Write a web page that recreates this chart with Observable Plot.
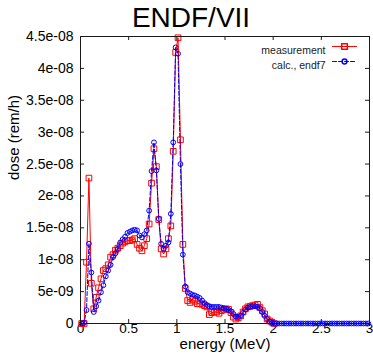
<!DOCTYPE html>
<html>
<head>
<meta charset="utf-8">
<script src="https://cdn.jsdelivr.net/npm/d3@7"></script>
<script src="https://cdn.jsdelivr.net/npm/@observablehq/plot@0.6"></script>
<style>
  html, body { margin: 0; padding: 0; background: #fff; }
</style>
</head>
<body>
<div id="chart"></div>
<script>
// energy bin centres (MeV)
const energy = [
  0.0125,0.0375,0.0625,0.0875,0.1125,0.1375,0.1625,0.1875,0.2125,0.2375,
  0.2625,0.2875,0.3125,0.3375,0.3625,0.3875,0.4125,0.4375,0.4625,0.4875,
  0.5125,0.5375,0.5625,0.5875,0.6125,0.6375,0.6625,0.6875,0.7125,0.7375,
  0.7625,0.7875,0.8125,0.8375,0.8625,0.8875,0.9125,0.9375,0.9625,0.9875,
  1.0125,1.0375,1.0625,1.0875,1.1125,1.1375,1.1625,1.1875,1.2125,1.2375,
  1.2625,1.2875,1.3125,1.3375,1.3625,1.3875,1.4125,1.4375,1.4625,1.4875,
  1.5125,1.5375,1.5625,1.5875,1.6125,1.6375,1.6625,1.6875,1.7125,1.7375,
  1.7625,1.7875,1.8125,1.8375,1.8625,1.8875,1.9125,1.9375,1.9625,1.9875,
  2.0125,2.0375,2.0625,2.0875,2.1125,2.1375,2.1625,2.1875,2.2125,2.2375,
  2.2625,2.2875,2.3125,2.3375,2.3625,2.3875,2.4125,2.4375,2.4625,2.4875,
  2.5125,2.5375,2.5625,2.5875,2.6125,2.6375,2.6625,2.6875,2.7125,2.7375,
  2.7625,2.7875,2.8125,2.8375,2.8625,2.8875,2.9125,2.9375,2.9625,2.9875
];
// dose, in units of 1e-8 rem/h
const measurement = [
  0,0,0.96,2.28,0.63,0.23,0.41,0.56,0.70,0.83,
  0.86,0.92,1.04,1.08,1.15,1.18,1.22,1.26,1.28,1.30,
  1.30,1.31,1.33,1.24,1.18,1.14,1.22,1.33,1.56,2.20,
  2.74,2.46,1.63,1.17,1.09,1.17,1.33,1.53,2.70,4.25,
  4.48,2.88,1.24,0.55,0.36,0.33,0.38,0.35,0.31,0.31,
  0.30,0.28,0.26,0.14,0.17,0.18,0.18,0.16,0.20,0.22,
  0.23,0.22,0.17,0.10,0.07,0.09,0.12,0.18,0.23,0.26,
  0.27,0.28,0.29,0.30,0.25,0.20,0.15,0.07,0.04,0.02,
  0
];
const calcEndf7 = [
  0,0.01,0.21,1.25,0.80,0.18,0.27,0.36,0.49,0.60,
  0.74,0.83,0.92,1.04,1.10,1.17,1.27,1.32,1.36,1.42,
  1.44,1.46,1.47,1.46,1.38,1.35,1.40,1.46,1.77,2.39,
  2.84,2.40,1.64,1.25,1.17,1.22,1.27,1.72,2.84,4.33,
  4.23,2.50,1.08,0.58,0.49,0.47,0.45,0.44,0.42,0.40,
  0.36,0.32,0.29,0.27,0.26,0.26,0.26,0.26,0.25,0.24,
  0.23,0.21,0.19,0.15,0.11,0.10,0.12,0.17,0.22,0.25,
  0.26,0.27,0.27,0.26,0.24,0.18,0.12,0.07,0.03,0.01,
  0,0,0,0,0,0,0,0,0,0,
  0,0,0,0,0,0,0,0,0,0,
  0,0,0,0,0,0,0,0,0,0,
  0,0,0,0,0,0,0,0,0,0
];
const unit = 1e-8;
const seriesNames = ["measurement", "calc., endf7"];
const xTicks = [0, 0.5, 1, 1.5, 2, 2.5, 3];
const xTickLabels = ["0", "0.5", "1", "1.5", "2", "2.5", "3"];
const yTicks = [0, 5e-9, 1e-8, 1.5e-8, 2e-8, 2.5e-8, 3e-8, 3.5e-8, 4e-8, 4.5e-8];
const yTickLabels = ["0", "5e-09", "1e-08", "1.5e-08", "2e-08", "2.5e-08", "3e-08", "3.5e-08", "4e-08", "4.5e-08"];

const measData = measurement.map((v, i) => ({e: energy[i], v: v * unit}));
const calcData = calcEndf7.map((v, i) => ({e: energy[i], v: v * unit}));

const W = 373, H = 355, mL = 80, mR = 4, mT = 36, mB = 32;
const innerW = W - mL - mR, innerH = H - mT - mB;
const tk = 4;
const red = "#ff0000", blue = "#0000ff";
const ink = "#1a1a1a";
const legendLine = {draw(ctx, l) { ctx.moveTo(0, 0); ctx.lineTo(0, -l); }};

const chart = Plot.plot({
  width: W, height: H,
  marginLeft: mL, marginRight: mR, marginTop: mT, marginBottom: mB,
  style: {fontFamily: "'Liberation Sans', Arial, sans-serif", background: "#fff", color: ink},
  x: {domain: [0, 3], axis: null},
  y: {domain: [0, 4.5e-8], axis: null},
  marks: [
    // inward ticks on all four sides
    Plot.tickX(xTicks, {x: d => d, insetTop: innerH - tk, stroke: ink}),
    Plot.tickX(xTicks, {x: d => d, insetBottom: innerH - tk, stroke: ink}),
    Plot.tickY(yTicks, {y: d => d, insetRight: innerW - tk, stroke: ink}),
    Plot.tickY(yTicks, {y: d => d, insetLeft: innerW - tk, stroke: ink}),
    // tick labels
    Plot.text(xTicks, {x: d => d, frameAnchor: "bottom", dy: 9.5, text: (d, i) => xTickLabels[i], fontSize: 13.5, fill: "#000"}),
    Plot.text(yTicks, {y: d => d, frameAnchor: "left", dx: -7, textAnchor: "end", text: (d, i) => yTickLabels[i], fontSize: 14, fill: "#000"}),
    // series
    Plot.line(measData, {x: "e", y: "v", stroke: red, strokeWidth: 1}),
    Plot.dot(measData, {x: "e", y: "v", symbol: "square", r: 3.2, stroke: red, strokeWidth: 1, fill: "none"}),
    Plot.line(calcData, {x: "e", y: "v", stroke: blue, strokeWidth: 1, strokeDasharray: "4,2"}),
    Plot.dot(calcData, {x: "e", y: "v", symbol: "circle", r: 2.4, stroke: blue, strokeWidth: 1, fill: "none"}),
    Plot.frame({stroke: ink}),
    // legend
    Plot.text([seriesNames[0]], {frameAnchor: "top-right", dx: -44, dy: 10, textAnchor: "end", fontSize: 10.5, fill: ink}),
    Plot.text([seriesNames[1]], {frameAnchor: "top-right", dx: -44, dy: 25, textAnchor: "end", fontSize: 10.5, fill: ink}),
    Plot.vector([0], {frameAnchor: "top-right", dx: -25, dy: 10, length: 24, rotate: 90, anchor: "middle", shape: legendLine, stroke: red, strokeWidth: 1}),
    Plot.dot([0], {frameAnchor: "top-right", dx: -25, dy: 10, symbol: "square", r: 3.2, stroke: red, fill: "none"}),
    Plot.vector([0], {frameAnchor: "top-right", dx: -25, dy: 25, length: 24, rotate: 90, anchor: "middle", shape: legendLine, stroke: blue, strokeWidth: 1, strokeDasharray: "4,2"}),
    Plot.dot([0], {frameAnchor: "top-right", dx: -25, dy: 25, symbol: "circle", r: 2.4, stroke: blue, fill: "none"}),
    // title and axis labels
    Plot.text(["ENDF/VII"], {frameAnchor: "top", dx: -34, dy: -10, lineAnchor: "bottom", fontSize: 28, fill: "#000"}),
    Plot.text(["energy (MeV)"], {frameAnchor: "bottom", dy: 25.5, fontSize: 15, fill: "#000"}),
    Plot.text(["dose (rem/h)"], {frameAnchor: "left", dx: -66, rotate: -90, fontSize: 15, fill: "#000"})
  ]
});
document.getElementById("chart").appendChild(chart);
</script>
</body>
</html>
